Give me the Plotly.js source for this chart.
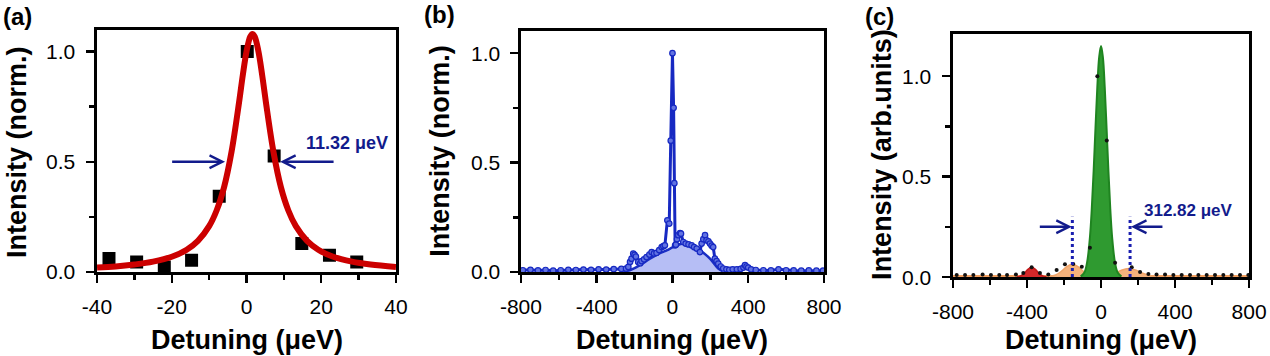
<!DOCTYPE html>
<html>
<head>
<meta charset="utf-8">
<script src="https://cdn.plot.ly/plotly-3.0.1.min.js"></script>
<style>html,body{margin:0;padding:0;background:#fff;}#chart{width:1270px;height:356px;}</style>
</head>
<body>
<div id="chart"></div>
<script>
// ---------- Panel (a) ----------
const aDetuning = [-36.8, -29.4, -22.0, -14.7, -7.3, 0.2, 7.4, 14.8, 22.2, 29.5];
const aIntensity = [0.061, 0.045, 0.023, 0.053, 0.344, 1.0, 0.526, 0.129, 0.076, 0.045];
const aFitX = [-40, -35, -30, -25, -20, -16, -13, -10, -8, -6, -4, -2, -1, 0, 1, 1.6, 2.2, 3.2, 4.2, 5.2, 7.2, 9.2, 11.2, 13.2, 16.2, 19.2, 23.2, 28.2, 33.2, 40];
const aFitY = [0.020, 0.025, 0.034, 0.047, 0.069, 0.101, 0.141, 0.208, 0.279, 0.385, 0.546, 0.769, 0.892, 1.000, 1.068, 1.080, 1.068, 1.000, 0.892, 0.769, 0.546, 0.385, 0.279, 0.208, 0.141, 0.101, 0.069, 0.047, 0.034, 0.023];
const aHalfMax = 0.5;
const aArrowTails = [-20.3, 23.7];
const aArrowHeads = [-5.75, 9.0];
const aLabel = '11.32 μeV';
const aLabelPos = [26.8, 0.586];

// ---------- Panel (b) ----------
const bDetuning = [-790, -750, -710, -670, -630, -590, -550, -510, -470, -430, -390, -350, -310, -270,
  -245, -233, -224, -216, -207, -200, -193, -181, -170, -163, -150, -137, -122, -110, -97, -84, -70, -57, -48, -40,
  -27, -17, -9, 0, 6, 10, 14, 18, 24, 31, 40, 45, 57, 70, 85, 101, 114, 128, 145, 154, 163, 172, 180, 190, 198, 207, 215,
  224, 233, 242, 255, 268, 285, 300, 318, 340, 360, 375, 383, 391, 400, 415, 440, 480, 520, 560, 600, 640, 680, 720, 760, 795];
const bIntensity = [0.008, 0.010, 0.007, 0.009, 0.006, 0.008, 0.010, 0.009, 0.011, 0.010, 0.012, 0.011, 0.013, 0.014,
  0.015, 0.023, 0.046, 0.061, 0.084, 0.078, 0.070, 0.046, 0.040, 0.050, 0.058, 0.068, 0.080, 0.091, 0.085, 0.087, 0.100, 0.114, 0.118, 0.122,
  0.236, 0.221, 0.600, 1.000, 0.750, 0.406, 0.122, 0.125, 0.150, 0.168, 0.178, 0.175, 0.137, 0.130, 0.126, 0.122, 0.114, 0.107, 0.091, 0.130, 0.150, 0.168, 0.145, 0.140, 0.130, 0.120, 0.114,
  0.061, 0.050, 0.038, 0.025, 0.016, 0.012, 0.010, 0.012, 0.012, 0.014, 0.020, 0.031, 0.025, 0.020, 0.012, 0.009, 0.008, 0.007, 0.012, 0.008, 0.007, 0.006, 0.007, 0.006, 0.006];
const bEnvX = [-260, -225, -172, -119, -60, -31, 0, 30, 57, 100, 145, 198, 242, 265];
const bEnvY = [0.004, 0.008, 0.031, 0.061, 0.088, 0.099, 0.112, 0.124, 0.130, 0.117, 0.099, 0.061, 0.016, 0.004];

// ---------- Panel (c) ----------
const cDotX = [-780, -735, -690, -640, -595, -550, -508, -460, -420, -375, -330, -285, -240, -195, -150, -104, -60, -20, 31, 76,
  166, 211, 256, 300, 346, 391, 436, 481, 526, 571, 616, 661, 706, 751, 796];
const cDotY = [0.010, 0.010, 0.010, 0.012, 0.010, 0.010, 0.010, 0.012, 0.020, 0.048, 0.020, 0.013, 0.035, 0.063, 0.065, 0.051, 0.146, 1.000, 0.680, 0.071,
  0.048, 0.025, 0.015, 0.013, 0.012, 0.010, 0.010, 0.010, 0.010, 0.010, 0.010, 0.010, 0.010, 0.010, 0.010];
const cBaseX = [-800, 800];
const cBaseY = [0.005, 0.005];
const cGreenX = [-110, -90, -75, -60, -50, -40, -30, -20, -10, 0, 10, 20, 30, 40, 50, 60, 75, 90, 110];
const cGreenY = [0.003, 0.022, 0.074, 0.198, 0.339, 0.526, 0.741, 0.946, 1.095, 1.150, 1.095, 0.946, 0.741, 0.526, 0.339, 0.198, 0.074, 0.022, 0.003];
const cOrangeLX = [-280, -245, -215, -185, -155, -125, -95, -65, -30];
const cOrangeLY = [0.002, 0.010, 0.028, 0.052, 0.064, 0.052, 0.028, 0.010, 0.002];
const cOrangeRX = [0, 40, 75, 110, 150, 190, 225, 260, 300];
const cOrangeRY = [0.002, 0.008, 0.019, 0.034, 0.042, 0.034, 0.019, 0.008, 0.002];
const cRedX = [-455, -435, -415, -395, -375, -355, -335, -315, -295];
const cRedY = [0.001, 0.005, 0.018, 0.038, 0.048, 0.038, 0.018, 0.005, 0.001];
const cEdges = [-155, 157];
const cEdgeTop = 0.30;
const cArrowY = 0.25;
const cArrowTails = [-339, 340];
const cArrowHeads = [-158, 162];
const cLabel = '312.82 μeV';
const cLabelPos = [475, 0.33];

// ---------- tick labels ----------
const aXTicks = [-40, -20, 0, 20, 40];
const aXText = ['-40', '-20', '0', '20', '40'];
const aXMinor = [-30, -10, 10, 30];
const bXTicks = [-800, -400, 0, 400, 800];
const bXText = ['-800', '-400', '0', '400', '800'];
const bXMinor = [-600, -200, 200, 600];
const yTicks = [0, 0.5, 1.0];
const yText = ['0.0', '0.5', '1.0'];
const yMinor = [0.25, 0.75];

const FONT = 'Liberation Sans, Arial, sans-serif';
const NAVY = '#121b8c';

function xa(domain, range, tv, tt, mv, anchor) {
  return {
    domain: domain, range: range, anchor: anchor,
    tickmode: 'array', tickvals: tv, ticktext: tt,
    ticks: 'outside', ticklen: 8, tickwidth: 2.5, tickcolor: '#000',
    minor: {tickmode: 'array', tickvals: mv, ticks: 'outside', ticklen: 5, tickwidth: 2.5, tickcolor: '#000', showgrid: false},
    showline: true, linewidth: 3, linecolor: '#000', mirror: true,
    showgrid: false, zeroline: false, automargin: false, fixedrange: true,
    tickfont: {family: FONT, size: 21, color: '#000'}, ticklabelstandoff: 6
  };
}
function ya(domain, range, anchor) {
  return {
    domain: domain, range: range, anchor: anchor,
    tickmode: 'array', tickvals: yTicks, showticklabels: false,
    ticks: 'outside', ticklen: 8, tickwidth: 2.5, tickcolor: '#000',
    minor: {tickmode: 'array', tickvals: yMinor, ticks: 'outside', ticklen: 5, tickwidth: 2.5, tickcolor: '#000', showgrid: false},
    showline: true, linewidth: 3, linecolor: '#000', mirror: true,
    showgrid: false, zeroline: false, automargin: false, fixedrange: true
  };
}

const traces = [
  // (a)
  {x: aDetuning, y: aIntensity, xaxis: 'x', yaxis: 'y', mode: 'markers', type: 'scatter',
   marker: {symbol: 'square', size: 13, color: '#000'}},
  {x: aFitX, y: aFitY, xaxis: 'x', yaxis: 'y', mode: 'lines', type: 'scatter',
   line: {color: '#cc0000', width: 6, shape: 'spline'}},
  // (b)
  {x: bEnvX, y: bEnvY, xaxis: 'x2', yaxis: 'y2', mode: 'lines', type: 'scatter', fill: 'tozeroy',
   fillcolor: '#b6bef5', line: {color: '#1b2fc4', width: 2.5, shape: 'spline'}},
  {x: bDetuning, y: bIntensity, xaxis: 'x2', yaxis: 'y2', mode: 'lines+markers', type: 'scatter',
   line: {color: '#1729c2', width: 3},
   marker: {symbol: 'circle', size: 5.5, color: '#6273e2', line: {color: '#1729c2', width: 1.2}}},
  // (c)
  {x: cBaseX, y: cBaseY, xaxis: 'x3', yaxis: 'y3', mode: 'lines', type: 'scatter',
   line: {color: '#f3a060', width: 2}},
  {x: cOrangeLX, y: cOrangeLY, xaxis: 'x3', yaxis: 'y3', mode: 'lines', type: 'scatter', fill: 'tozeroy',
   fillcolor: '#f5b27c', line: {color: '#f0a468', width: 1.5, shape: 'spline'}},
  {x: cOrangeRX, y: cOrangeRY, xaxis: 'x3', yaxis: 'y3', mode: 'lines', type: 'scatter', fill: 'tozeroy',
   fillcolor: '#f5b27c', line: {color: '#f0a468', width: 1.5, shape: 'spline'}},
  {x: cRedX, y: cRedY, xaxis: 'x3', yaxis: 'y3', mode: 'lines', type: 'scatter', fill: 'tozeroy',
   fillcolor: '#d6282a', line: {color: '#c41a1a', width: 1.5, shape: 'spline'}},
  {x: cGreenX, y: cGreenY, xaxis: 'x3', yaxis: 'y3', mode: 'lines', type: 'scatter', fill: 'tozeroy',
   fillcolor: '#2f9a30', line: {color: '#1f8420', width: 2, shape: 'spline'}},
  {x: cDotX, y: cDotY, xaxis: 'x3', yaxis: 'y3', mode: 'markers', type: 'scatter',
   marker: {symbol: 'circle', size: 4, color: '#111'}},
  {x: [cEdges[0], cEdges[0]], y: [0, cEdgeTop], xaxis: 'x3', yaxis: 'y3', mode: 'lines', type: 'scatter',
   line: {color: '#1a1fb0', width: 3, dash: 'dot'}},
  {x: [cEdges[1], cEdges[1]], y: [0, cEdgeTop], xaxis: 'x3', yaxis: 'y3', mode: 'lines', type: 'scatter',
   line: {color: '#1a1fb0', width: 3, dash: 'dot'}}
];

function arrow(xr, yr, tail, head, y) {
  return {xref: xr, yref: yr, axref: xr, ayref: yr, x: head, y: y, ax: tail, ay: y, text: '',
    showarrow: true, arrowhead: 5, arrowsize: 1, arrowwidth: 2.5, arrowcolor: NAVY, standoff: 0};
}
function paperText(text, x, y, size, angle) {
  return {xref: 'paper', yref: 'paper', x: x, y: y, xanchor: 'center', yanchor: 'middle',
    text: '<b>' + text + '</b>', showarrow: false, textangle: angle || 0,
    font: {family: FONT, size: size, color: '#000'}};
}

const annotations = [
  arrow('x', 'y', aArrowTails[0], aArrowHeads[0], aHalfMax),
  arrow('x', 'y', aArrowTails[1], aArrowHeads[1], aHalfMax),
  {xref: 'x', yref: 'y', x: aLabelPos[0], y: aLabelPos[1], text: '<b>' + aLabel + '</b>', showarrow: false,
   font: {family: FONT, size: 18, color: NAVY}},
  arrow('x3', 'y3', cArrowTails[0], cArrowHeads[0], cArrowY),
  arrow('x3', 'y3', cArrowTails[1], cArrowHeads[1], cArrowY),
  {xref: 'x3', yref: 'y3', x: cLabelPos[0], y: cLabelPos[1], text: '<b>' + cLabel + '</b>', showarrow: false,
   font: {family: FONT, size: 17, color: NAVY}},
  paperText('(a)', 0.0134, 0.955, 24),
  paperText('(b)', 0.3457, 0.958, 24),
  paperText('(c)', 0.6929, 0.955, 24),
  paperText('Detuning (μeV)', 0.1941, 0.045, 27),
  paperText('Detuning (μeV)', 0.5295, 0.045, 27),
  paperText('Detuning (μeV)', 0.8669, 0.045, 27),
  paperText('Intensity (norm.)', 0.0134, 0.573, 27, -90),
  paperText('Intensity (norm.)', 0.3465, 0.5764, 27, -90),
  paperText('Intensity (arb.units)', 0.6945, 0.565, 27, -90)
];

// y tick labels, placed on each y scale (right edge a fixed gap left of the frame)
const yLabelRight = {y: 0.0606, y2: 0.3950, y3: 0.7346};
Object.keys(yLabelRight).forEach(function (ax) {
  yTicks.forEach(function (v, i) {
    annotations.push({xref: 'paper', yref: ax, x: yLabelRight[ax], y: v, xanchor: 'right', yanchor: 'middle',
      text: yText[i], showarrow: false, font: {family: FONT, size: 21, color: '#000'}});
  });
});

const layout = {
  width: 1270, height: 356,
  margin: {l: 0, r: 0, t: 0, b: 0, pad: 0},
  paper_bgcolor: '#fff', plot_bgcolor: '#fff',
  showlegend: false,
  font: {family: FONT, color: '#000'},
  xaxis: xa([0.0764, 0.3118], [-40, 40], aXTicks, aXText, aXMinor, 'y'),
  yaxis: ya([0.2360, 0.9171], [0, 1.1], 'x'),
  xaxis2: xa([0.4102, 0.6488], [-800, 800], bXTicks, bXText, bXMinor, 'y2'),
  yaxis2: ya([0.2360, 0.9121], [0, 1.1], 'x2'),
  xaxis3: xa([0.7504, 0.9835], [-800, 800], bXTicks, bXText, bXMinor, 'y3'),
  yaxis3: ya([0.2219, 0.9045], [0, 1.21], 'x3'),
  annotations: annotations
};

Plotly.newPlot('chart', traces, layout, {staticPlot: true, displayModeBar: false});
</script>
</body>
</html>
